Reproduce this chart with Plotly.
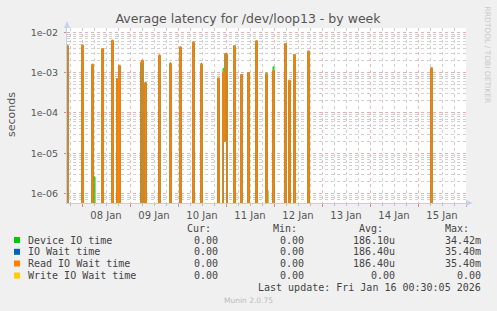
import numpy as np
import pandas as pd
import plotly.graph_objects as go

# ---------------- data ----------------
start_time = "2026-01-07 16:30"
end_time = "2026-01-16 00:00"

spike_times = [
    "2026-01-07 16:30", "2026-01-08 00:00", "2026-01-08 05:00", "2026-01-08 06:00",
    "2026-01-08 10:00", "2026-01-08 15:00", "2026-01-08 17:30", "2026-01-08 18:30",
    "2026-01-09 05:30", "2026-01-09 06:00", "2026-01-09 07:30", "2026-01-09 14:30",
    "2026-01-09 20:00", "2026-01-10 01:00", "2026-01-10 07:30", "2026-01-10 11:30",
    "2026-01-10 20:00", "2026-01-10 22:30", "2026-01-10 23:00", "2026-01-10 23:30",
    "2026-01-11 00:00", "2026-01-11 04:00", "2026-01-11 07:30", "2026-01-11 11:00",
    "2026-01-11 15:00", "2026-01-11 20:00", "2026-01-11 20:30", "2026-01-11 23:30",
    "2026-01-12 05:30", "2026-01-12 07:30", "2026-01-12 10:00", "2026-01-12 17:00",
    "2026-01-15 06:30",
]
read_io_wait = [
    4.6e-3, 4.8e-3, 1.6e-3, 0.0,
    3.9e-3, 6.3e-3, 7.1e-4, 1.5e-3,
    1.8e-3, 2.0e-3, 5.5e-4, 2.7e-3,
    1.65e-3, 4.3e-3, 5.7e-3, 1.55e-3,
    7.3e-4, 1.0e-3, 2.0e-5, 2.9e-3,
    2.9e-3, 4.6e-3, 8.9e-4, 1.0e-3,
    6.1e-3, 9.0e-4, 0.0, 1.1e-3,
    5.2e-3, 6.4e-4, 2.8e-3, 3.4e-3,
    1.3e-3,
]
io_wait = list(read_io_wait)
device_io = [
    4.5e-3, 4.7e-3, 1.55e-3, 2.6e-6,
    3.8e-3, 6.1e-3, 6.9e-4, 1.45e-3,
    1.75e-3, 1.95e-3, 5.7e-4, 2.6e-3,
    1.75e-3, 4.2e-3, 5.5e-3, 1.7e-3,
    7.1e-4, 1.25e-3, 2.0e-5, 2.8e-3,
    2.8e-3, 4.5e-3, 8.7e-4, 9.7e-4,
    5.9e-3, 9.8e-4, 1.2e-6, 1.4e-3,
    5.0e-3, 6.2e-4, 2.7e-3, 3.3e-3,
    1.25e-3,
]
write_io_wait = [0.0] * len(spike_times)

series_names = ["Device IO time", "IO Wait time", "Read IO Wait time", "Write IO Wait time"]
series_colors = ["#00CC00", "#0066B3", "#FF8000", "#FFCC00"]
series_widths = [1, 1, 1.4, 1]
series_values = [device_io, io_wait, read_io_wait, write_io_wait]
legend_cur = ["0.00", "0.00", "0.00", "0.00"]
legend_min = ["0.00", "0.00", "0.00", "0.00"]
legend_avg = ["186.10u", "186.40u", "186.40u", "0.00"]
legend_max = ["34.42m", "35.40m", "35.40m", "0.00"]

ytick_vals = [1e-6, 1e-5, 1e-4, 1e-3, 1e-2]
ytick_text = ["1e-06", "1e-05", "1e-04", "1e-03", "1e-02"]

# ------------- build full 30-min series -------------
times = pd.date_range(start_time, end_time, freq="30min")
idx = {t: i for i, t in enumerate(times)}
FLOOR = 1e-9  # zero values drawn below the visible log range

fig = go.Figure()
for name, color, w, vals in zip(series_names, series_colors, series_widths, series_values):
    y = np.zeros(len(times))
    for t, v in zip(spike_times, vals):
        y[idx[pd.Timestamp(t)]] = v
    y = np.where(y > 0, y, FLOOR)
    fig.add_trace(go.Scatter(x=times, y=y, mode="lines", name=name,
                             line=dict(color=color, width=w, shape="hv"),
                             showlegend=False, hoverinfo="skip"))

# ------------- layout -------------
L, R, T, B = 67, 466, 28, 203
PW, PH = R - L, B - T


def px(x):
    return (x - L) / PW


def py(y):
    return (B - y) / PH


red_grid = "rgba(235,165,165,0.8)"
gray_grid = "rgba(200,200,200,0.85)"
txt = "#555555"

fig.update_layout(
    width=497, height=311, autosize=False,
    margin=dict(l=L, r=497 - R, t=T, b=311 - B, pad=0),
    paper_bgcolor="#F0F0F0", plot_bgcolor="#FFFFFF",
    font=dict(family="DejaVu Sans", color=txt),
    title=dict(text="Average latency for /dev/loop13 - by week",
               x=0.499, xanchor="center", y=1 - 18.5 / 311, yanchor="middle",
               font=dict(family="DejaVu Sans", size=12.5, color=txt)),
    xaxis=dict(
        type="date", range=[start_time, end_time],
        tick0="2026-01-08", dtick=86400000, ticklabelmode="period",
        tickformat="%d %b", tickfont=dict(size=10, color=txt),
        showgrid=True, gridcolor=red_grid, griddash="dot", gridwidth=1,
        ticks="outside", ticklen=3, tickcolor="rgba(220,120,120,0.9)",
        minor=dict(dtick=6 * 3600000, showgrid=True, gridcolor=gray_grid,
                   griddash="dot", ticks="outside", ticklen=2, tickcolor="#BBBBBB"),
        showline=True, linecolor="#D8D0A8", linewidth=1, zeroline=False,
        fixedrange=True,
    ),
    yaxis=dict(
        type="log", range=[-6.234, -1.893],
        tickvals=ytick_vals, ticktext=ytick_text,
        tickfont=dict(size=9.5, color=txt),
        showgrid=True, gridcolor=red_grid, griddash="dot", gridwidth=1,
        ticks="outside", ticklen=2, tickcolor="rgba(220,120,120,0.9)",
        ticklabelstandoff=4,
        minor=dict(dtick="D1", showgrid=True, gridcolor=gray_grid, griddash="dot"),
        showline=True, linecolor="#C8D0E8", linewidth=1, zeroline=False,
        fixedrange=True,
    ),
)

# axis arrows
fig.add_shape(type="path", xref="x domain", yref="y domain",
              path=f"M {px(64)} {py(28)} L {px(67)} {py(21)} L {px(70)} {py(28)} Z",
              fillcolor="#C8D0F0", line=dict(width=0))
fig.add_shape(type="path", xref="x domain", yref="y domain",
              path=f"M {px(466)} {py(200)} L {px(473)} {py(203)} L {px(466)} {py(206)} Z",
              fillcolor="#C8D0F0", line=dict(width=0))

ann = []
ann.append(dict(text="seconds", x=px(11), y=py(115), xref="paper", yref="paper",
                textangle=-90, showarrow=False, xanchor="center", yanchor="middle",
                font=dict(family="DejaVu Sans", size=11, color=txt)))
ann.append(dict(text="RRDTOOL / TOBI OETIKER", x=px(487), y=py(4), xref="paper", yref="paper",
                textangle=90, showarrow=False, xanchor="center", yanchor="top",
                font=dict(family="DejaVu Sans", size=7.5, color="#C8C8C8")))

mono = "DejaVu Sans Mono"
lfont = dict(family=mono, size=10, color="#444444")
headers = [("Cur:", 212.5), ("Min:", 298.5), ("Avg:", 384.5), ("Max:", 470.5)]
for h, xr in headers:
    ann.append(dict(text=h, x=px(xr), y=py(228.3), xref="paper", yref="paper",
                    showarrow=False, xanchor="right", yanchor="middle", font=lfont))

row_y = [240, 251.8, 263.5, 275.5]
col_right = [219.5, 305.5, 397, 483]
for i, name in enumerate(series_names):
    yy = row_y[i]
    fig.add_shape(type="rect", xref="paper", yref="paper",
                  x0=px(14), x1=px(20), y0=py(yy + 3), y1=py(yy - 3),
                  fillcolor=series_colors[i], line=dict(width=0))
    ann.append(dict(text=name, x=px(26), y=py(yy), xref="paper", yref="paper",
                    showarrow=False, xanchor="left", yanchor="middle", font=lfont))
    for col, xr in zip([legend_cur, legend_min, legend_avg, legend_max], col_right):
        ann.append(dict(text=col[i], x=px(xr), y=py(yy), xref="paper", yref="paper",
                        showarrow=False, xanchor="right", yanchor="middle", font=lfont))

ann.append(dict(text="Last update: Fri Jan 16 00:30:05 2026", x=px(483), y=py(287.7),
                xref="paper", yref="paper", showarrow=False, xanchor="right",
                yanchor="middle", font=lfont))
ann.append(dict(text="Munin 2.0.75", x=px(248), y=py(300), xref="paper", yref="paper",
                showarrow=False, xanchor="center", yanchor="middle",
                font=dict(family="DejaVu Sans", size=7.5, color="#BBBBBB")))

fig.update_layout(annotations=ann)
fig.write_html("out.html")
